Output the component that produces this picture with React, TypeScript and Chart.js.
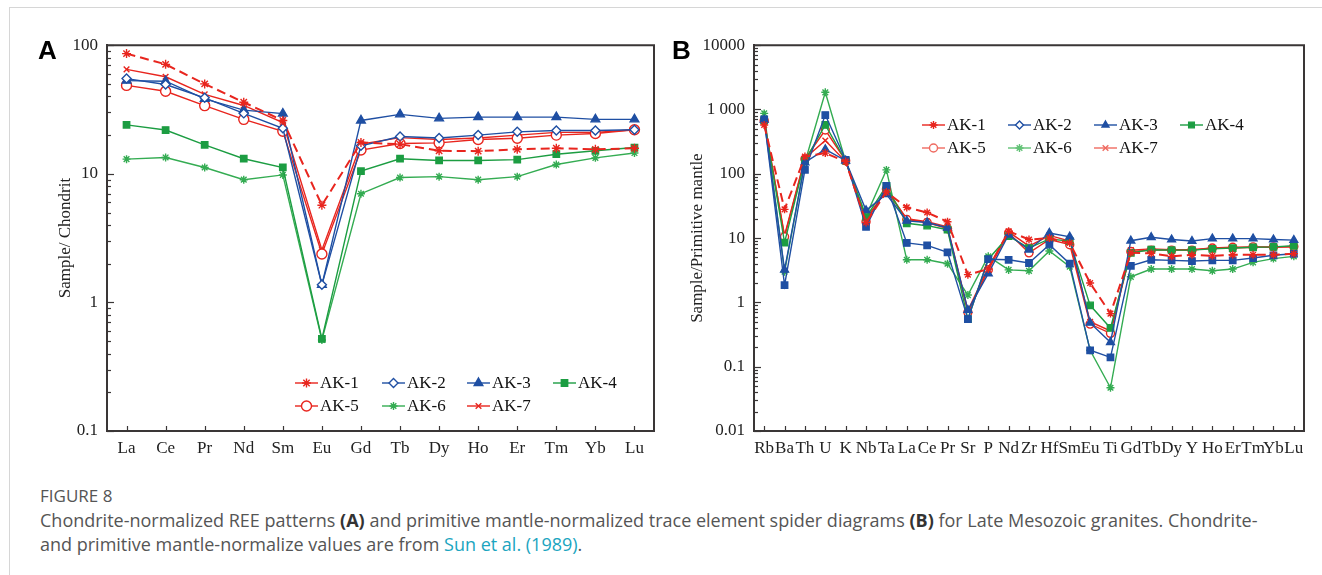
import React, { useEffect, useRef } from 'react';
import { Chart, registerables } from 'chart.js';
import { drawPoint } from 'chart.js/helpers';

Chart.register(...registerables);

// ---------- data ----------
const SAMPLES = ['AK-1', 'AK-2', 'AK-3', 'AK-4', 'AK-5', 'AK-6', 'AK-7'];

const REE = ['La', 'Ce', 'Pr', 'Nd', 'Sm', 'Eu', 'Gd', 'Tb', 'Dy', 'Ho', 'Er', 'Tm', 'Yb', 'Lu'];
const REE_AK1 = [86, 71, 50, 36, 26, 5.7, 17.5, 17, 15.1, 15, 15.5, 15.8, 15.5, 15.8];
const REE_AK2 = [55, 49.5, 39, 29.5, 22.6, 1.37, 16.5, 19.5, 19, 20, 21.2, 21.7, 21.7, 22];
const REE_AK3 = [53, 52.5, 38.3, 31.3, 29.4, 1.37, 26, 29, 27, 27.6, 27.6, 27.6, 26.5, 26.5];
const REE_AK4 = [24, 21.9, 16.8, 13.1, 11.2, 0.52, 10.5, 13.1, 12.7, 12.7, 12.9, 14.2, 15.1, 16];
const REE_AK5 = [48.7, 43.8, 33.9, 26.5, 21.4, 2.38, 15.3, 17.2, 17.4, 18.5, 18.9, 20, 20.6, 22];
const REE_AK6 = [13, 13.4, 11.2, 9.0, 9.8, 0.51, 7.0, 9.35, 9.5, 9.0, 9.5, 11.8, 13.3, 14.5];
const REE_AK7 = [64.8, 56.8, 41.5, 34, 25, 2.56, 17, 19.1, 18.5, 19, 20, 21, 21, 22];
const REE_TICKS = [0.1, 1, 10, 100];
const REE_TICK_LABELS = ['0.1', '1', '10', '100'];

const TRACE = ['Rb', 'Ba', 'Th', 'U', 'K', 'Nb', 'Ta', 'La', 'Ce', 'Pr', 'Sr', 'P', 'Nd', 'Zr', 'Hf', 'Sm', 'Eu', 'Ti', 'Gd', 'Tb', 'Dy', 'Y', 'Ho', 'Er', 'Tm', 'Yb', 'Lu'];
const TR_AK1 = [575, 28, 185, 210, 155, 17.5, 52, 30, 25, 18, 2.7, 3.3, 12.8, 9.5, 10, 8.4, 2.0, 0.67, 5.9, 5.8, 5.2, 5.5, 5.3, 5.5, 5.5, 5.5, 5.7];
const TR_AK2 = [700, 1.85, 115, 820, 165, 15, 65, 8.4, 7.7, 6.0, 0.55, 4.7, 4.6, 4.1, 7.9, 4.0, 0.18, 0.14, 3.7, 4.6, 4.5, 4.4, 4.5, 4.5, 4.9, 5.4, 5.7];
const TR_AK3 = [690, 3.2, 150, 240, 160, 27, 48, 18.5, 17.5, 14.4, 0.76, 2.8, 11.3, 6.6, 12, 10.5, 0.48, 0.24, 9.1, 10.3, 9.5, 9.0, 9.8, 9.8, 9.8, 9.5, 9.3];
const TR_AK4 = [680, 8.5, 160, 575, 160, 21, 65, 17, 15.6, 13.5, 0.55, 4.7, 10.7, 7.0, 9.7, 9.0, 0.9, 0.4, 5.9, 6.6, 6.5, 6.5, 6.8, 7.0, 7.2, 7.3, 7.6];
const TR_AK5 = [670, 10.5, 170, 480, 160, 18, 58, 19.5, 17.5, 14, 0.7, 3.2, 12, 5.9, 9.5, 7.9, 0.46, 0.33, 6.2, 6.5, 6.5, 6.5, 7.0, 7.2, 7.3, 7.3, 7.4];
const TR_AK6 = [870, 3.0, 150, 1850, 155, 22, 115, 4.6, 4.6, 4.0, 1.3, 5.2, 3.2, 3.1, 6.3, 3.6, 0.18, 0.047, 2.5, 3.3, 3.3, 3.3, 3.1, 3.3, 4.2, 4.8, 5.2];
const TR_AK7 = [650, 11, 175, 330, 155, 20, 55, 20, 18, 15, 0.75, 3.5, 12.5, 7.5, 11, 9.0, 0.5, 0.36, 6.5, 6.8, 6.6, 6.6, 7.0, 7.0, 7.2, 7.2, 7.3];
const TR_TICKS = [0.01, 0.1, 1, 10, 100, 1000, 10000];
const TR_TICK_LABELS = ['0.01', '0.1', '1', '10', '100', '1 000', '10000'];

// ---------- styles ----------
const RED = '#e8251e';
const BLUE = '#1f4fa3';
const GREEN = '#1c9d42';
const GREEN2 = '#34ac52';
const LGREEN = '#62c276';
const LRED = '#ef6a60';
const AXIS = '#3a3636';
const SERIF = "'Liberation Serif', 'DejaVu Serif', serif";

type Sty = { color: string; point: string; fill: string; r: number; dash?: number[]; w?: number };

const STYLE_A: Sty[] = [
  { color: RED, point: 'star', fill: RED, r: 4.5, dash: [9, 5], w: 2 },
  { color: BLUE, point: 'rectRot', fill: '#fff', r: 4.5 },
  { color: BLUE, point: 'triangle', fill: BLUE, r: 5 },
  { color: GREEN, point: 'rect', fill: GREEN, r: 4.5 },
  { color: RED, point: 'circle', fill: '#fff', r: 5 },
  { color: GREEN2, point: 'star', fill: GREEN2, r: 4 },
  { color: RED, point: 'crossRot', fill: RED, r: 4 },
];
const STYLE_B: Sty[] = [
  { color: RED, point: 'star', fill: RED, r: 4, dash: [9, 5], w: 2 },
  { color: BLUE, point: 'rect', fill: BLUE, r: 4.5 },
  { color: BLUE, point: 'triangle', fill: BLUE, r: 4.5 },
  { color: GREEN, point: 'rect', fill: GREEN, r: 4.5 },
  { color: RED, point: 'circle', fill: '#fff', r: 4 },
  { color: GREEN2, point: 'star', fill: GREEN2, r: 4 },
  { color: RED, point: 'crossRot', fill: RED, r: 4 },
];
const LEGEND_B: Sty[] = [
  { color: RED, point: 'star', fill: RED, r: 4 },
  { color: BLUE, point: 'rectRot', fill: '#fff', r: 4 },
  { color: BLUE, point: 'triangle', fill: BLUE, r: 4 },
  { color: GREEN, point: 'rect', fill: GREEN, r: 4 },
  { color: LRED, point: 'circle', fill: '#fff', r: 4 },
  { color: LGREEN, point: 'star', fill: LGREEN, r: 4 },
  { color: LRED, point: 'crossRot', fill: LRED, r: 4 },
];

function makeDatasets(series: number[][], styles: Sty[]) {
  return series.map((d, i) => {
    const s = styles[i];
    return {
      label: SAMPLES[i],
      data: d,
      borderColor: s.color,
      backgroundColor: s.fill,
      borderWidth: s.w ?? 1.4,
      borderDash: s.dash ?? [],
      pointStyle: s.point,
      pointRadius: s.r,
      pointBorderColor: s.color,
      pointBackgroundColor: s.fill,
      pointBorderWidth: 1.4,
      tension: 0,
    };
  });
}

const decorPlugin = {
  id: 'decor',
  afterDraw(chart: any, _args: any, opts: any) {
    const { ctx, chartArea: a, scales } = chart;
    ctx.save();
    ctx.strokeStyle = AXIS;
    ctx.lineWidth = 2;
    ctx.setLineDash([]);
    ctx.beginPath();
    ctx.moveTo(a.left, a.top);
    ctx.lineTo(a.right, a.top);
    ctx.lineTo(a.right, a.bottom);
    ctx.stroke();
    // inward x ticks
    ctx.lineWidth = 1.2;
    const xs = scales.x;
    xs.ticks.forEach((_t: any, i: number) => {
      const x = Math.round(xs.getPixelForTick(i)) + 0.5;
      ctx.beginPath();
      ctx.moveTo(x, a.bottom);
      ctx.lineTo(x, a.bottom - 5);
      ctx.stroke();
    });
    // inward log y ticks
    const ys = scales.y;
    const e0 = Math.round(Math.log10(ys.min));
    const e1 = Math.round(Math.log10(ys.max));
    for (let e = e0; e <= e1; e++) {
      for (let k = 1; k <= 9; k++) {
        const v = k * Math.pow(10, e);
        if (v > ys.max * 1.0001) break;
        const y = Math.round(ys.getPixelForValue(v)) + 0.5;
        const len = k === 1 ? 7 : opts.minorLen;
        ctx.beginPath();
        ctx.moveTo(a.left, y);
        ctx.lineTo(a.left + len, y);
        ctx.stroke();
      }
    }
    // legend
    const items: Sty[] = opts.legend;
    items.forEach((s, i) => {
      const col = i < 4 ? i : i - 4;
      const row = i < 4 ? 0 : 1;
      const x = opts.cols[col];
      const y = opts.rows[row];
      ctx.strokeStyle = s.color;
      ctx.lineWidth = 1.4;
      ctx.setLineDash([]);
      ctx.beginPath();
      ctx.moveTo(x, y);
      ctx.lineTo(x + 23, y);
      ctx.stroke();
      ctx.fillStyle = s.fill;
      ctx.strokeStyle = s.color;
      drawPoint(ctx, { pointStyle: s.point, radius: s.r, borderWidth: 1.4, rotation: 0 } as any, x + 11.5, y);
      ctx.fillStyle = '#111';
      ctx.font = `17px ${SERIF}`;
      ctx.textBaseline = 'middle';
      ctx.textAlign = 'left';
      ctx.fillText(SAMPLES[i], x + 25, y + 1);
    });
    ctx.restore();
  },
};

function buildConfig(p: {
  labels: string[];
  series: number[][];
  styles: Sty[];
  legend: Sty[];
  ticks: number[];
  tickLabels: string[];
  title: string;
  yWidth: number;
  titlePad: number;
  cols: number[];
  rows: number[];
  minorLen: number;
}) {
  const min = p.ticks[0];
  const max = p.ticks[p.ticks.length - 1];
  return {
    type: 'line',
    data: { labels: p.labels, datasets: makeDatasets(p.series, p.styles) },
    plugins: [decorPlugin],
    options: {
      animation: false,
      responsive: false,
      maintainAspectRatio: false,
      layout: { padding: { top: 10, right: 16, left: 0, bottom: 0 } },
      plugins: {
        legend: { display: false },
        tooltip: { enabled: false },
        decor: { legend: p.legend, cols: p.cols, rows: p.rows, minorLen: p.minorLen },
      },
      scales: {
        x: {
          type: 'category',
          offset: true,
          grid: { display: false, drawTicks: false, offset: true },
          border: { display: true, color: AXIS, width: 2 },
          ticks: {
            autoSkip: false,
            maxRotation: 0,
            minRotation: 0,
            padding: 7,
            color: '#222',
            font: { family: SERIF, size: 17 },
          },
          afterFit: (s: any) => {
            s.height = 29;
          },
        },
        y: {
          type: 'logarithmic',
          min,
          max,
          grid: { display: false, drawTicks: false },
          border: { display: true, color: AXIS, width: 2 },
          afterBuildTicks: (s: any) => {
            s.ticks = p.ticks.map((v) => ({ value: v, major: true }));
          },
          ticks: {
            padding: 9,
            color: '#222',
            font: { family: SERIF, size: 17 },
            callback: (v: any) => {
              const i = p.ticks.findIndex((t) => Math.abs(t - v) / t < 1e-6);
              return i >= 0 ? p.tickLabels[i] : '';
            },
          },
          title: {
            display: true,
            text: p.title,
            color: '#222',
            font: { family: SERIF, size: 17 },
            padding: { top: p.titlePad, bottom: 0 },
          },
          afterFit: (s: any) => {
            s.width = p.yWidth;
          },
        },
      },
    },
  };
}

function ChartCanvas({ config, left, top, width, height }: any) {
  const ref = useRef<HTMLCanvasElement>(null);
  useEffect(() => {
    if (!ref.current) return;
    const chart = new Chart(ref.current, config);
    return () => chart.destroy();
  }, []);
  return (
    <canvas
      ref={ref}
      width={width}
      height={height}
      style={{ position: 'absolute', left, top, width, height }}
    />
  );
}

export default function App() {
  useEffect(() => {
    document.body.style.margin = '0';
    document.body.style.background = '#fff';
  }, []);

  const cfgA = buildConfig({
    labels: REE,
    series: [REE_AK1, REE_AK2, REE_AK3, REE_AK4, REE_AK5, REE_AK6, REE_AK7],
    styles: STYLE_A,
    legend: STYLE_A,
    ticks: REE_TICKS,
    tickLabels: REE_TICK_LABELS,
    title: 'Sample/ Chondrit',
    yWidth: 87,
    titlePad: 35,
    cols: [275, 362, 447, 533],
    rows: [357, 380],
    minorLen: 4,
  });
  const cfgB = buildConfig({
    labels: TRACE,
    series: [TR_AK1, TR_AK2, TR_AK3, TR_AK4, TR_AK5, TR_AK6, TR_AK7],
    styles: STYLE_B,
    legend: LEGEND_B,
    ticks: TR_TICKS,
    tickLabels: TR_TICK_LABELS,
    title: 'Sample/Primitive mantle',
    yWidth: 79,
    titlePad: 12,
    cols: [247, 333, 419, 505],
    rows: [99, 122],
    minorLen: 4,
  });

  const captionFont = "'Open Sans', 'Lato', sans-serif";
  return (
    <div style={{ position: 'relative', width: 1322, height: 575, overflow: 'hidden', background: '#fff' }}>
      <div
        style={{
          position: 'absolute',
          left: 9,
          top: 7,
          width: 1400,
          height: 620,
          borderLeft: '1px solid #d6d6d6',
          borderTop: '1px solid #d6d6d6',
        }}
      />
      <ChartCanvas config={cfgA} left={20} top={26} width={650} height={434} />
      <ChartCanvas config={cfgB} left={675} top={26} width={645} height={434} />
      <div
        style={{
          position: 'absolute',
          left: 38,
          top: 37,
          font: "bold 26px 'Liberation Sans', Arial, sans-serif",
          lineHeight: 1,
          color: '#000',
        }}
      >
        A
      </div>
      <div
        style={{
          position: 'absolute',
          left: 672,
          top: 37,
          font: "bold 26px 'Liberation Sans', Arial, sans-serif",
          lineHeight: 1,
          color: '#000',
        }}
      >
        B
      </div>
      <div
        style={{
          position: 'absolute',
          left: 40,
          top: 485,
          fontFamily: captionFont,
          fontSize: 17,
          lineHeight: '22px',
          color: '#555',
          whiteSpace: 'nowrap',
        }}
      >
        FIGURE 8
      </div>
      <div
        style={{
          position: 'absolute',
          left: 40,
          top: 508,
          fontFamily: captionFont,
          fontSize: 18,
          lineHeight: '24px',
          color: '#555',
          whiteSpace: 'nowrap',
        }}
      >
        Chondrite-normalized REE patterns <b style={{ color: '#333' }}>(A)</b> and primitive mantle-normalized trace
        element spider diagrams <b style={{ color: '#333' }}>(B)</b> for Late Mesozoic granites. Chondrite-
        <br />
        and primitive mantle-normalize values are from <span style={{ color: '#1ba5c0' }}>Sun et al. (1989)</span>.
      </div>
    </div>
  );
}
